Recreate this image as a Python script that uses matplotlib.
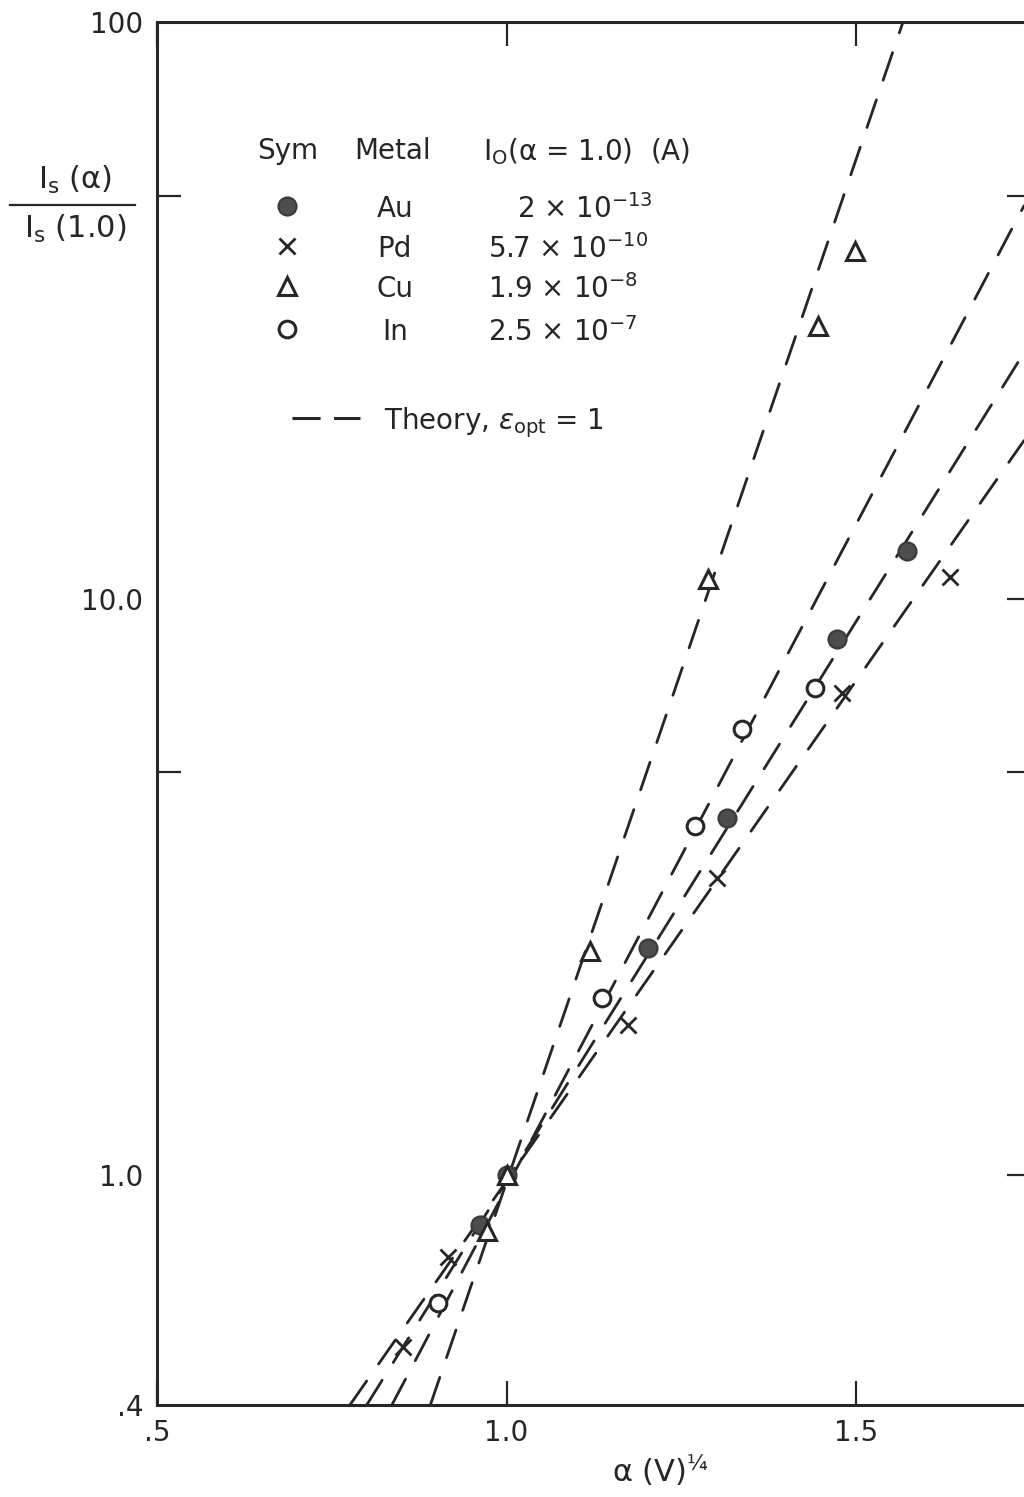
import numpy as np
import matplotlib.pyplot as plt
from matplotlib.lines import Line2D
from matplotlib.ticker import FixedLocator, FixedFormatter, NullLocator

plt.rcParams['font.family'] = ['DejaVu Sans']
plt.rcParams['mathtext.fontset'] = 'dejavusans'

INK = '#262626'

# measured Is(alpha)/Is(1.0) for each metal
au_x = [0.962, 1.0, 1.202, 1.315, 1.473, 1.573]
au_y = [0.82, 1.0, 2.48, 4.17, 8.53, 12.1]
pd_x = [0.852, 0.916, 1.174, 1.301, 1.480, 1.634]
pd_y = [0.504, 0.721, 1.82, 3.28, 6.87, 10.9]
cu_x = [0.972, 1.0, 1.119, 1.288, 1.446, 1.499]
cu_y = [0.80, 1.0, 2.45, 10.8, 29.7, 40.1]
in_x = [0.902, 1.137, 1.270, 1.337, 1.441]
in_y = [0.60, 2.03, 4.04, 5.95, 6.99]

# theory curves (eps_opt = 1), straight on this scale: end points
pd_fit_x = [0.776, 1.740]
pd_fit_y = [0.4, 18.8]
au_fit_x = [0.800, 1.740]
au_fit_y = [0.4, 26.7]
in_fit_x = [0.836, 1.740]
in_fit_y = [0.4, 48.0]
cu_fit_x = [0.891, 1.567]
cu_fit_y = [0.4, 100.0]

# table in the key
metals = ['Au', 'Pd', 'Cu', 'In']
i0_mant = ['2', '5.7', '1.9', '2.5']
i0_exp = [-13, -10, -8, -7]

x_ticks = [0.5, 1.0, 1.5]
x_labels = ['.5', '1.0', '1.5']
y_ticks = [0.4, 1.0, 10.0, 100.0]
y_labels = ['.4', '1.0', '10.0', '100']

fig = plt.figure(figsize=(10.24, 14.97), dpi=100)
ax = fig.add_axes([0.1533, 0.0615, 0.8535, 0.9238])
ax.set_yscale('log')
ax.set_xlim(0.5, 1.75)
ax.set_ylim(0.4, 100)

dash = dict(color=INK, lw=2.0, dashes=(10.5, 7.5), dash_capstyle='round',
            zorder=2)
for fx, fy in [(pd_fit_x, pd_fit_y), (au_fit_x, au_fit_y),
               (in_fit_x, in_fit_y), (cu_fit_x, cu_fit_y)]:
    ax.plot(fx, fy, **dash)

sym = {
    'Au': dict(marker='o', ms=13, mfc='#4d4d4d', mec='#3a3a3a', mew=1.5),
    'Pd': dict(marker='x', ms=11, mec=INK, mew=2.0),
    'Cu': dict(marker='^', ms=13, mfc='white', mec=INK, mew=2.2),
    'In': dict(marker='o', ms=12, mfc='white', mec=INK, mew=2.2),
}
ax.plot(in_x, in_y, ls='none', zorder=3, **sym['In'])
ax.plot(pd_x, pd_y, ls='none', zorder=3, **sym['Pd'])
ax.plot(au_x, au_y, ls='none', zorder=3, **sym['Au'])
ax.plot(cu_x, cu_y, ls='none', zorder=4, **sym['Cu'])

# frame and ticks
for s in ax.spines.values():
    s.set_linewidth(2.2)
    s.set_color(INK)
ax.xaxis.set_major_locator(FixedLocator(x_ticks))
ax.xaxis.set_major_formatter(FixedFormatter(x_labels))
ax.xaxis.set_minor_locator(NullLocator())
ax.yaxis.set_major_locator(FixedLocator(y_ticks))
ax.yaxis.set_major_formatter(FixedFormatter(y_labels))
ax.yaxis.set_minor_locator(FixedLocator([5, 50]))
ax.yaxis.set_minor_formatter(FixedFormatter(['', '']))
ax.tick_params(axis='x', which='major', direction='in', top=True, length=17,
               width=1.6, color=INK, labelsize=20, labelcolor=INK, pad=10)
ax.tick_params(axis='y', which='major', direction='in', length=0,
               labelsize=20, labelcolor=INK, pad=10)
ax.tick_params(axis='y', which='minor', direction='in', length=17,
               width=1.6, color=INK)

rax = ax.twinx()
rax.set_yscale('log')
rax.set_ylim(0.4, 100)
rax.yaxis.set_major_locator(FixedLocator([1, 5, 10, 50]))
rax.yaxis.set_minor_locator(NullLocator())
rax.tick_params(axis='y', direction='in', length=17, width=1.6, color=INK,
                labelright=False)
for s in rax.spines.values():
    s.set_visible(False)

# key table
hy = 0.909
ax.text(0.150, hy, 'Sym', transform=ax.transAxes, ha='center',
        va='center_baseline', fontsize=20, color=INK)
ax.text(0.269, hy, 'Metal', transform=ax.transAxes, ha='center',
        va='center_baseline', fontsize=20, color=INK)
ax.text(0.373, hy, r'I$_{\rm O}$(α = 1.0)  (A)', transform=ax.transAxes,
        ha='left', va='center_baseline', fontsize=20, color=INK)
rows_y = [0.867, 0.838, 0.809, 0.778]
val_x = [0.412, 0.379, 0.379, 0.379]
for m, mant, ex, ry, vx in zip(metals, i0_mant, i0_exp, rows_y, val_x):
    ax.plot([0.149], [ry], transform=ax.transAxes, ls='none', clip_on=False,
            **sym[m])
    ax.text(0.272, ry, m, transform=ax.transAxes, ha='center',
            va='center_baseline', fontsize=20, color=INK)
    ax.text(vx, ry, r'%s $\times$ 10$^{%d}$' % (mant, ex),
            transform=ax.transAxes, ha='left', va='center_baseline',
            fontsize=20, color=INK)

ty = 0.714
ax.add_line(Line2D([0.155, 0.232], [ty, ty], transform=ax.transAxes,
                   color=INK, lw=2.2, dashes=(9.2, 4.4)))
ax.text(0.260, ty, r'Theory, $\epsilon_{\rm opt}$ = 1', transform=ax.transAxes,
        ha='left', va='center_baseline', fontsize=20, color=INK)

# axis titles
fig.text(660 / 1024, 1 - 1470 / 1497, r'α (V)$^{¼}$', ha='center',
         va='center', fontsize=22, color=INK)
fig.text(0.0732, 0.8798, r'I$_{\rm s}$ (α)', ha='center', va='center',
         fontsize=22, color=INK)
fig.text(0.0732, 0.8470, r'I$_{\rm s}$ (1.0)', ha='center', va='center',
         fontsize=22, color=INK)
fig.add_artist(Line2D([0.010, 0.132], [0.8631, 0.8631],
                      transform=fig.transFigure, color=INK, lw=1.6))

fig.savefig('out.png', dpi=100)
